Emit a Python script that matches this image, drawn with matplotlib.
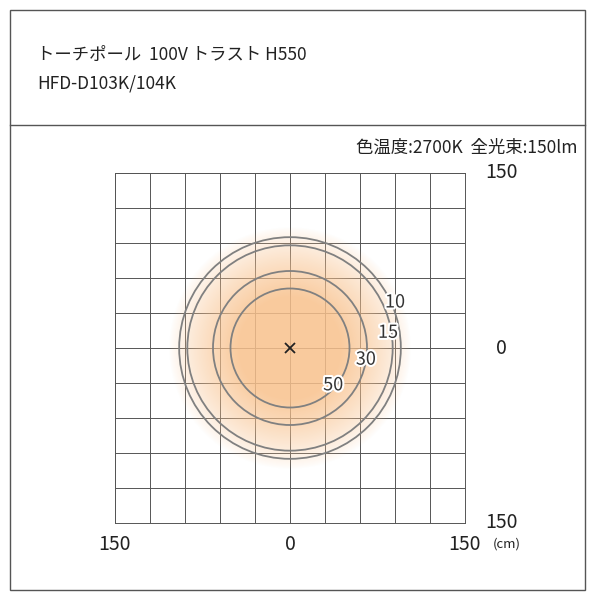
import numpy as np
import matplotlib
matplotlib.use("Agg")
import matplotlib.pyplot as plt
import matplotlib.patheffects as pe
from matplotlib.patches import Circle, Rectangle

plt.rcParams['font.family'] = ['Noto Sans CJK JP', 'DejaVu Sans']

title1 = "トーチポール  100V トラスト H550"
title2 = "HFD-D103K/104K"
info = "色温度:2700K  全光束:150lm"
lux_levels = [10, 15, 30, 50]
radii_cm = [95, 88, 66, 51]
label_pos = [(90, 39), (84, 13), (65, -10), (37, -32)]
ticks = [-150, 0, 150]
tick_labels = ["150", "0", "150"]

fig = plt.figure(figsize=(6, 6), dpi=100)
fig.patches.append(Rectangle((10/600, 10/600), 575/600, 580/600, transform=fig.transFigure,
                             fill=False, edgecolor='#555555', lw=1))
fig.lines.append(plt.Line2D([10/600, 585/600], [1-125/600]*2, transform=fig.transFigure,
                            color='#555555', lw=1))
fig.text(37/600, 1-55/600, title1, fontsize=12.5, va='center', color='#222')
fig.text(37/600, 1-84/600, title2, fontsize=12.5, va='center', color='#222')
fig.text(577/600, 1-148/600, info, fontsize=12.5, va='center', ha='right', color='#222')

ax = fig.add_axes([115/600, 77/600, 350/600, 350/600])
ax.set_xlim(-150, 150); ax.set_ylim(-150, 150)
ax.set_aspect('equal')
for v in np.arange(-150, 151, 30):
    ax.axvline(v, color='#555555', lw=0.7, zorder=1)
    ax.axhline(v, color='#555555', lw=0.7, zorder=1)
for s in ax.spines.values():
    s.set_color('#555555'); s.set_linewidth(0.7)
ax.set_xticks([]); ax.set_yticks([])

n = 400
g = np.linspace(-150, 150, n)
X, Y = np.meshgrid(g, g)
R = np.hypot(X, Y)
alpha = np.clip((104 - R) / 60, 0, 1) ** 0.8 * 0.85
img = np.zeros((n, n, 4))
img[..., 0] = 0.976; img[..., 1] = 0.76; img[..., 2] = 0.55
img[..., 3] = alpha
ax.imshow(img, extent=(-150, 150, -150, 150), origin='lower', zorder=2, interpolation='bilinear')

for r in radii_cm:
    ax.add_patch(Circle((0, 0), r, fill=False, edgecolor='#808080', lw=1.3, zorder=3))
for lv, (x, y) in zip(lux_levels, label_pos):
    ax.text(x, y, str(lv), fontsize=13, ha='center', va='center', color='#333', zorder=4,
            path_effects=[pe.withStroke(linewidth=3, foreground='white')])
ax.plot([0], [0], marker='x', color='#222', ms=7, mew=1.3, zorder=5)

for t, l in zip(ticks, tick_labels):
    ax.text(t, -168, l, fontsize=14, ha='center', va='center', color='#222', clip_on=False)
    ax.text(181, t, l, fontsize=14, ha='center', va='center', color='#222', clip_on=False)
ax.text(186, -168, "(cm)", fontsize=9.5, ha='center', va='center', color='#222', clip_on=False)

fig.savefig("out.png", dpi=100)
